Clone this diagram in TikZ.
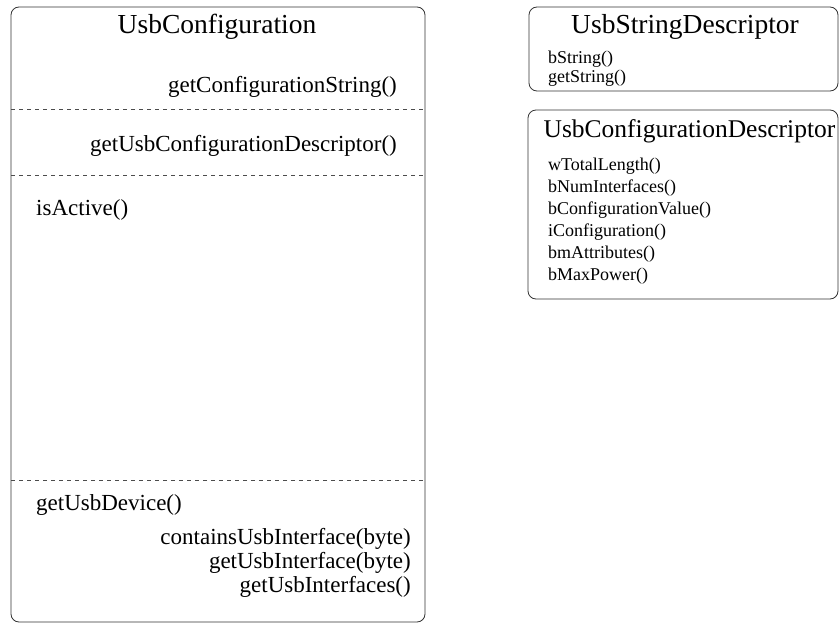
\documentclass[tikz,border=0pt]{standalone}
\usepackage{fontspec}
\setmainfont{Liberation Serif}
\begin{document}
\begin{tikzpicture}[x=1pt,y=-1pt,
  classbox/.style={draw=black!80,line width=0.8pt,rounded corners=8pt},
  sep/.style={draw=black!70,dashed,dash pattern=on 4pt off 4pt,line width=0.7pt},
  bigtitle/.style={inner sep=0pt,font=\fontsize{27.5}{30}\selectfont},
  midtitle/.style={inner sep=0pt,font=\fontsize{25.5}{28}\selectfont},
  bigmeth/.style={inner sep=0pt,font=\fontsize{23}{26}\selectfont},
  smallmeth/.style={inner sep=0pt,font=\fontsize{18}{20}\selectfont}]
\useasboundingbox (0,0) rectangle (839,624);
% UsbConfiguration
\draw[classbox] (11,7) rectangle (425,622);
\node[bigtitle,anchor=base] (uct) at (217,33) {UsbConfiguration};
\node[bigmeth,anchor=base east] (m1) at (397,92) {getConfigurationString()};
\coordinate (d1l) at (11,109);
\coordinate (d1r) at (425,109);
\draw[sep] (d1l) -- (d1r);
\node[bigmeth,anchor=base east] (m2) at (397,151) {getUsbConfigurationDescriptor()};
\coordinate (d2l) at (11,175);
\coordinate (d2r) at (425,175);
\draw[sep] (d2l) -- (d2r);
\node[bigmeth,anchor=base west] (m3) at (36,215) {isActive()};
\coordinate (d3l) at (11,480);
\coordinate (d3r) at (425,480);
\draw[sep] (d3l) -- (d3r);
\node[bigmeth,anchor=base west] (m4) at (36,510) {getUsbDevice()};
\node[bigmeth,anchor=base east] (m5) at (411,544) {containsUsbInterface(byte)};
\node[bigmeth,anchor=base east] (m6) at (411,568) {getUsbInterface(byte)};
\node[bigmeth,anchor=base east] (m7) at (411,592) {getUsbInterfaces()};
% UsbStringDescriptor
\draw[classbox] (529,7) rectangle (838,91);
\node[bigtitle,anchor=base] (usd) at (685,33) {UsbStringDescriptor};
\node[smallmeth,anchor=base west] (s1) at (548,63) {bString()};
\node[smallmeth,anchor=base west] (s2) at (548,82) {getString()};
% UsbConfigurationDescriptor
\draw[classbox] (528,110) rectangle (838,299);
\node[midtitle,anchor=base] (ucd) at (689.5,137) {UsbConfigurationDescriptor};
\node[smallmeth,anchor=base west] (c1) at (548,170) {wTotalLength()};
\node[smallmeth,anchor=base west] (c2) at (548,192) {bNumInterfaces()};
\node[smallmeth,anchor=base west] (c3) at (548,214) {bConfigurationValue()};
\node[smallmeth,anchor=base west] (c4) at (548,236) {iConfiguration()};
\node[smallmeth,anchor=base west] (c5) at (548,258) {bmAttributes()};
\node[smallmeth,anchor=base west] (c6) at (548,280) {bMaxPower()};
\end{tikzpicture}
\end{document}
